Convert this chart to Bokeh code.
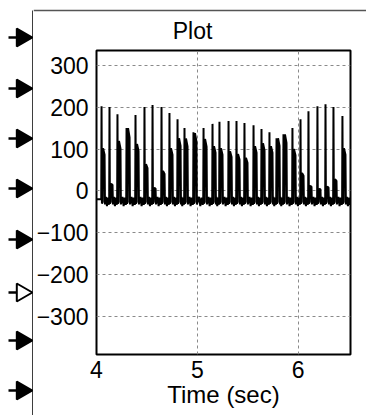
import numpy as np
from bokeh.plotting import figure
from bokeh.models import Range1d, FixedTicker
from bokeh.core.properties import value
from bokeh.layouts import column, row
from bokeh.embed import file_html
from bokeh.resources import INLINE

# ---- data ----
x_ticks = [4, 5, 6]
y_ticks = [-300, -200, -100, 0, 100, 200, 300]
spike_t = [4.050, 4.129, 4.208, 4.298, 4.387, 4.476, 4.556, 4.645, 4.724, 4.804,
           4.873, 4.962, 5.062, 5.151, 5.220, 5.310, 5.389, 5.468, 5.558, 5.637,
           5.716, 5.786, 5.855, 5.944, 6.024, 6.103, 6.192, 6.272, 6.351, 6.440]
spike_peak = [202, 200, 183, 150, 181, 200, 205, 200, 186, 171,
              150, 140, 150, 160, 165, 167, 167, 162, 157, 148,
              140, 126, 135, 150, 171, 190, 202, 207, 200, 179]
hump_peak = [102, 17, 119, 150, 112, 64, 7, 48, 102, 126,
             125, 138, 124, 107, 102, 95, 88, 79, 107, 114,
             107, 126, 135, 100, 43, 12, 5, 10, 28, 102]
baseline = -20
ripple_low = -36
ripple_high = -14
title_text = "Plot"
# input-port arrows of the block (decoration, page pixels)
port_y = [37, 88, 138, 188, 239, 292, 340, 390]
port_fill = ["black", "black", "black", "black", "black", "white", "black", "black"]

# ---- build waveform from the listed pulses ----
xs, ys = [4.0], [baseline]
nxt = spike_t[1:] + [spike_t[-1] + 0.08]
for t, tn, pk, hp in zip(spike_t, nxt, spike_peak, hump_peak):
    g = tn - t
    xs += [t - 0.003, t, t + 0.004, t + 0.012, t + 0.015, t + 0.030, t + 0.034,
           t + 0.55 * g, t + 0.68 * g, t + 0.80 * g, t + 0.92 * g]
    ys += [baseline, pk, baseline - 10, baseline - 6, hp, hp * 0.85, ripple_low + 4,
           ripple_high, ripple_low, ripple_high - 2, ripple_low + 3]
xs.append(6.52)
ys.append(baseline)

FONT = "Liberation Sans"
EDGE = "#2a2a2a"

def blank(w, h, xr, yr):
    f = figure(width=w, height=h, output_backend="svg", toolbar_location=None,
               x_range=xr, y_range=yr, x_axis_type=None, y_axis_type=None,
               min_border=0, min_border_left=0, min_border_right=0,
               min_border_top=0, min_border_bottom=0)
    f.grid.visible = False
    f.outline_line_color = None
    f.background_fill_color = "white"
    f.border_fill_color = "white"
    return f

# left strip: left edge of the block and its input ports
left = blank(33, 415, Range1d(0, 33), Range1d(415, 0))
left.line([32.5, 32.5], [10, 415], line_color=EDGE, line_width=1.8)
left.segment(x0=[8] * len(port_y), y0=port_y, x1=[22] * len(port_y), y1=port_y,
             line_color="black", line_width=2.5)
left.scatter(x=[21.5] * len(port_y), y=port_y, marker="triangle", size=18,
             angle=-np.pi / 2, fill_color=port_fill, line_color="black",
             line_width=2)

# top strip: top edge of the block and the plot title
top = blank(333, 46, Range1d(33, 366), Range1d(46, 0))
top.line([33, 366], [10, 10], line_color="#555555", line_width=1.5)
top.text(x=[192], y=[30], text=[title_text], text_align="center",
         text_baseline="middle", text_font=value(FONT),
         text_font_size="23px", text_color="black")

# main plot
p = figure(width=333, height=369, output_backend="svg", toolbar_location=None,
           x_range=Range1d(4.0, 6.52), y_range=Range1d(-390, 335),
           min_border_left=63, min_border_right=16, min_border_top=4,
           min_border_bottom=61)

p.line(xs, ys, line_color="black", line_width=2)

p.xaxis.ticker = FixedTicker(ticks=x_ticks)
p.yaxis.ticker = FixedTicker(ticks=y_ticks)
p.xgrid.ticker = FixedTicker(ticks=x_ticks)
p.ygrid.ticker = FixedTicker(ticks=y_ticks)
p.xaxis.axis_label = "Time (sec)"
for ax in (p.xaxis, p.yaxis):
    ax.axis_line_color = None
    ax.major_tick_in = 0
    ax.major_tick_out = 0
    ax.minor_tick_line_color = None
    ax.major_label_text_font = FONT
    ax.major_label_text_font_size = "23px"
    ax.major_label_text_color = "black"
p.xaxis.major_label_standoff = 6
p.yaxis.major_label_standoff = 8
p.xaxis.axis_label_text_font = FONT
p.xaxis.axis_label_text_font_size = "24px"
p.xaxis.axis_label_text_font_style = "normal"
p.xaxis.axis_label_text_color = "black"
p.xaxis.axis_label_standoff = 0

p.grid.grid_line_color = "#8a8a8a"
p.grid.grid_line_dash = "3 3"
p.grid.grid_line_width = 1
p.outline_line_color = "black"
p.outline_line_width = 2
p.background_fill_color = "white"
p.border_fill_color = "white"

layout = row(left, column(top, row(p, spacing=0), spacing=0), spacing=0)
open("out.html", "w").write(file_html(layout, INLINE))
